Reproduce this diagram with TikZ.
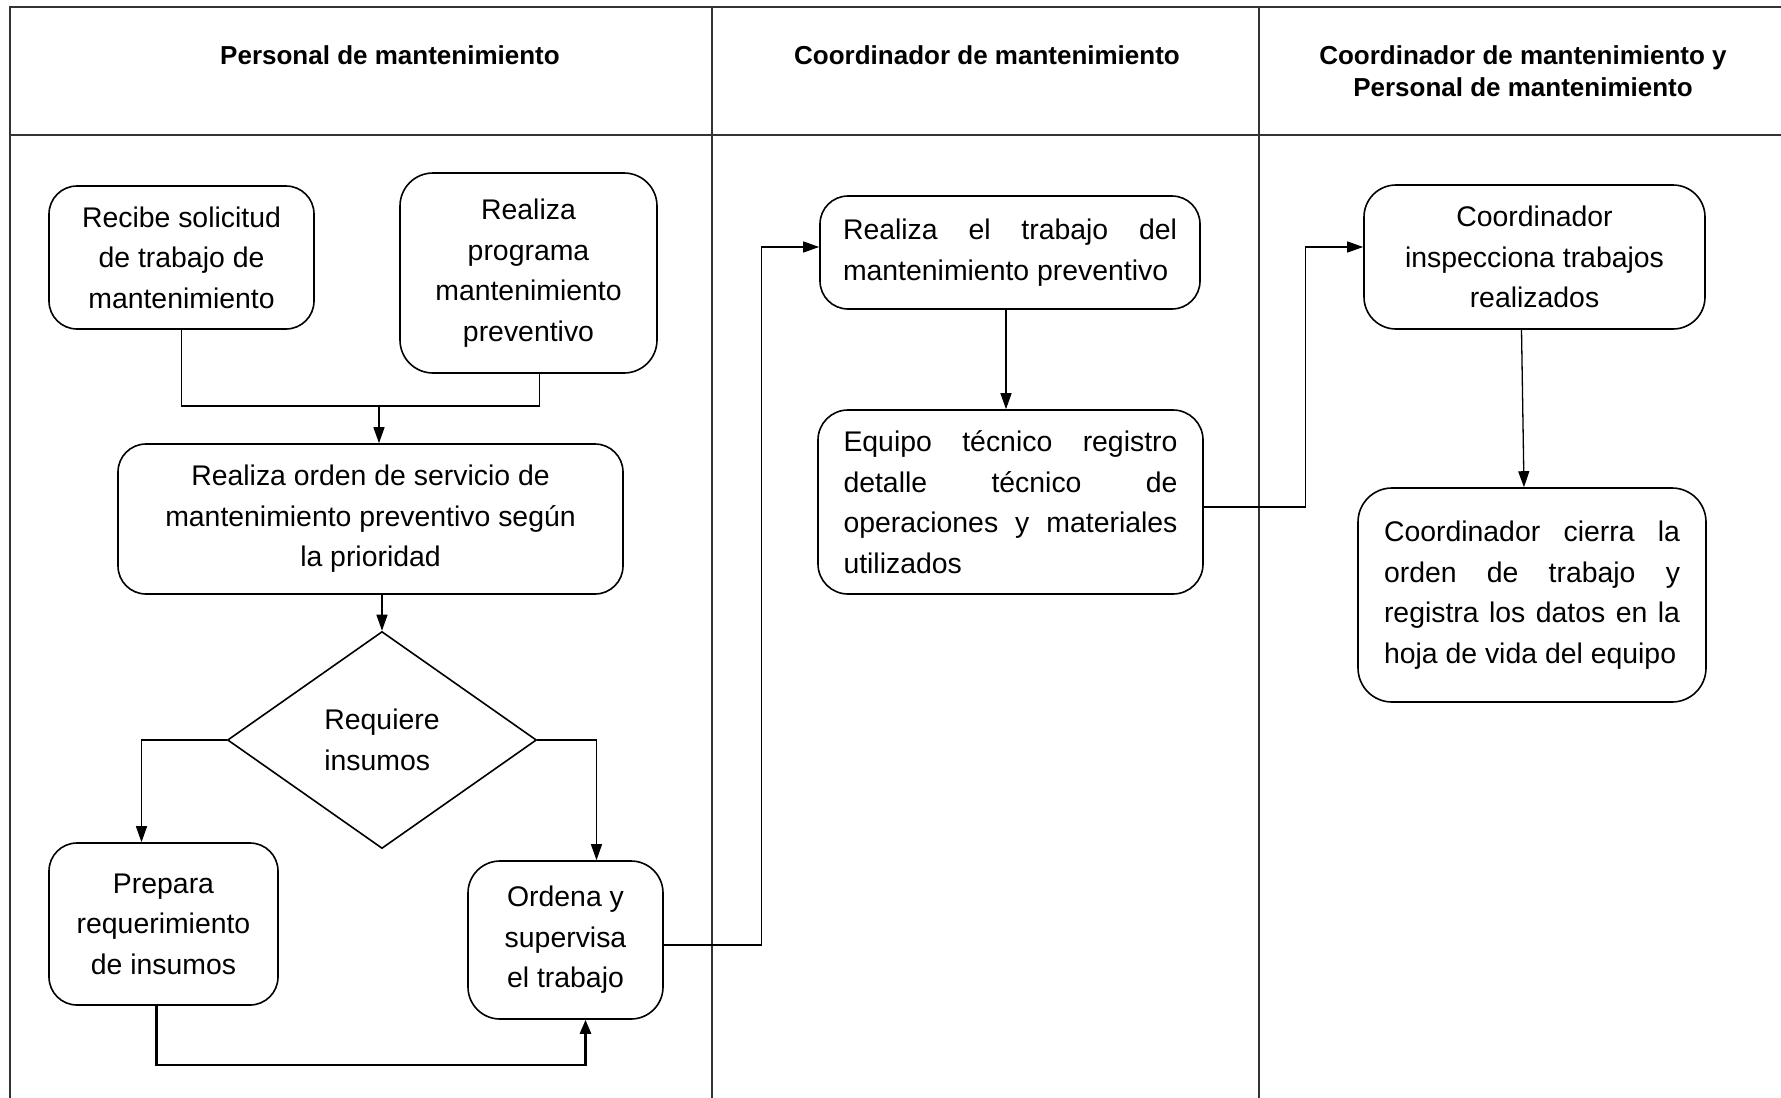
\documentclass[tikz,border=0pt]{standalone}
\usepackage{fontspec}
\setmainfont{Liberation Sans}
\usetikzlibrary{shapes.geometric,arrows.meta}

\begin{document}
\begin{tikzpicture}[x=1pt,y=-1pt,
	caja/.style={draw,line width=1.6pt,rounded corners=28pt,inner sep=0pt,align=center,
		font=\fontsize{28.4}{40.5}\selectfont},
	cajaj/.style={caja,align=justify},
	rombo/.style={draw,diamond,line width=1.6pt,inner sep=0pt,align=left,
		font=\fontsize{28.4}{40.5}\selectfont},
	titulo/.style={align=center,font=\fontsize{26}{32.5}\selectfont\bfseries},
	rejilla/.style={line width=1.5pt,black!80},
	linea/.style={line width=1.3pt},
	flecha/.style={line width=1.3pt,-{Triangle[length=16pt,width=11pt]}},
	flechab/.style={line width=2.6pt,-{Triangle[length=14pt,width=11pt]}}]
	\useasboundingbox (0,0) rectangle (1781,1098);
	% carriles
	\draw[rejilla] (10,1098) -- (10,7) -- (1781,7);
	\draw[rejilla] (10,135) -- (1781,135);
	\draw[rejilla] (712,7) -- (712,1098);
	\draw[rejilla] (1259,7) -- (1259,1098);
	\node[titulo] (t1) at (390,55) {Personal de mantenimiento};
	\node[titulo] (t2) at (987,55) {Coordinador de mantenimiento};
	\node[titulo] (t3) at (1523,71) {Coordinador de mantenimiento y\\Personal de mantenimiento};
	% pasos
	\node[caja,minimum width=265,minimum height=143] (A) at (181.5,257.5) {Recibe solicitud\\de trabajo de\\mantenimiento};
	\node[caja,rounded corners=33pt,minimum width=257,minimum height=200] (B) at (528.5,273) {Realiza\\programa\\mantenimiento\\preventivo};
	\node[caja,minimum width=505,minimum height=150] (C) at (370.5,519) {Realiza orden de servicio de\\mantenimiento preventivo según\\la prioridad};
	\node[rombo,minimum width=309,minimum height=217] (Q) at (382,740) {Requiere\\insumos};
	\node[caja,minimum width=229,minimum height=162] (D) at (163.5,924) {Prepara\\requerimiento\\de insumos};
	\node[caja,rounded corners=32pt,minimum width=195,minimum height=158] (E) at (565.5,940) {Ordena y\\supervisa\\el trabajo};
	\node[cajaj,text width=334,minimum width=380,minimum height=113] (F) at (1010,252.5) {Realiza el trabajo del\linebreak mantenimiento preventivo};
	\node[cajaj,rounded corners=30pt,text width=334,minimum width=385,minimum height=184] (G) at (1010.5,502) {Equipo técnico registro\linebreak detalle técnico de\linebreak operaciones y materiales\linebreak utilizados};
	\node[caja,rounded corners=32pt,minimum width=341,minimum height=144] (H) at (1534.5,257) {Coordinador\\inspecciona trabajos\\realizados};
	\node[cajaj,rounded corners=34pt,text width=296,minimum width=348,minimum height=214] (I) at (1532,595) {Coordinador cierra la\linebreak orden de trabajo y\linebreak registra los datos en la\linebreak hoja de vida del equipo};
	% conectores
	\coordinate (j1) at (379,406);
	\draw[linea] (A.south) |- (j1);
	\draw[linea] ([xshift=11pt]B.south) |- (j1);
	\draw[flecha] (j1) -- (j1 |- C.north);
	\draw[flecha] (C.south -| Q.north) -- (Q.north);
	\draw[flecha] (Q.west) -| ([xshift=-22pt]D.north);
	\draw[flecha] (Q.east) -| ([xshift=31pt]E.north);
	\draw[flechab] ([xshift=-7pt]D.south) -- ++(0,59) -| ([xshift=20pt]E.south);
	\draw[flecha] ([yshift=-5pt]E.east) -- ++(98,0) |- ([yshift=5.5pt]F.west);
	\draw[flecha] ([xshift=-4pt]F.south) -- ([xshift=-4pt]F.south |- G.north);
	\draw[flecha] ([yshift=-5pt]G.east) -- ++(102,0) |- ([yshift=10pt]H.west);
	\draw[flecha] ([xshift=-13pt]H.south) -- ([xshift=-8pt]I.north);
\end{tikzpicture}
\end{document}
